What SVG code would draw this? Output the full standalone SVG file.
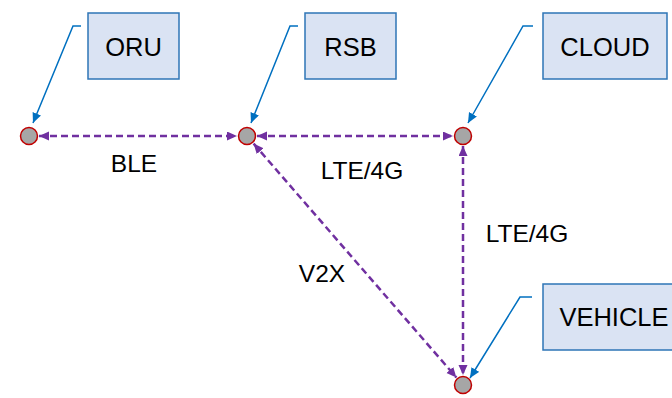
<svg xmlns="http://www.w3.org/2000/svg" width="672" height="398" viewBox="0 0 672 398">
<style>
.box{fill:#DAE3F3;stroke:#2E75B6;stroke-width:1.5}
.bt{font-family:"Liberation Sans",Arial,sans-serif;font-size:25.5px;fill:#000;text-anchor:middle}
.lt{font-family:"Liberation Sans",Arial,sans-serif;font-size:24.5px;fill:#000;text-anchor:middle}
.call{fill:none;stroke:#0070C0;stroke-width:1.5;marker-end:url(#ba)}
.link{fill:none;stroke:#7030A0;stroke-width:2.5;stroke-dasharray:7 4;marker-start:url(#pa);marker-end:url(#pa)}
.dot{fill:#A6A6A6;stroke:#C00000;stroke-width:1.5}
</style>
<defs>
<marker id="pa" markerUnits="userSpaceOnUse" markerWidth="11" markerHeight="10" refX="10" refY="4.5" orient="auto-start-reverse" viewBox="0 0 11 10"><path d="M0,0 L10,4.5 L0,9 z" fill="#7030A0"/></marker>
<marker id="ba" markerUnits="userSpaceOnUse" markerWidth="11" markerHeight="10" refX="10" refY="4.5" orient="auto" viewBox="0 0 11 10"><path d="M0,0 L10,4.5 L0,9 z" fill="#0070C0"/></marker>
</defs>
<g id="connectors">
<line class="link" x1="39" y1="136" x2="237" y2="136"/>
<line class="link" x1="257" y1="136" x2="453" y2="136"/>
<line class="link" x1="463" y1="146" x2="463" y2="375"/>
<line class="link" x1="253.6" y1="143.6" x2="456.4" y2="377.5"/>
<polyline class="call" points="81,26 73,26 33,123"/>
<polyline class="call" points="298,26 290,26 251,123"/>
<polyline class="call" points="533,26 523,26 468,123"/>
<polyline class="call" points="532,297 520,297 470,378"/>
</g>
<g id="labels">
<text class="lt" x="134" y="172">BLE</text>
<text class="lt" x="362" y="179">LTE/4G</text>
<text class="lt" x="527" y="242">LTE/4G</text>
<text class="lt" x="322" y="282">V2X</text>
</g>
<g id="oru"><circle class="dot" cx="29" cy="136" r="8.5"/></g>
<g id="rsb"><circle class="dot" cx="247" cy="136" r="8.5"/></g>
<g id="cloud"><circle class="dot" cx="463" cy="136" r="8.5"/></g>
<g id="vehicle"><circle class="dot" cx="463" cy="385" r="8.5"/></g>
<g id="oru-box"><rect class="box" x="88" y="13" width="91" height="66"/><text class="bt" x="133.5" y="56">ORU</text></g>
<g id="rsb-box"><rect class="box" x="305" y="13" width="91" height="66"/><text class="bt" x="350.5" y="56">RSB</text></g>
<g id="cloud-box"><rect class="box" x="543" y="13" width="124" height="66"/><text class="bt" x="605" y="56">CLOUD</text></g>
<g id="vehicle-box"><rect class="box" x="543" y="284" width="140" height="66"/><text class="bt" x="614" y="326">VEHICLE</text></g>
</svg>
